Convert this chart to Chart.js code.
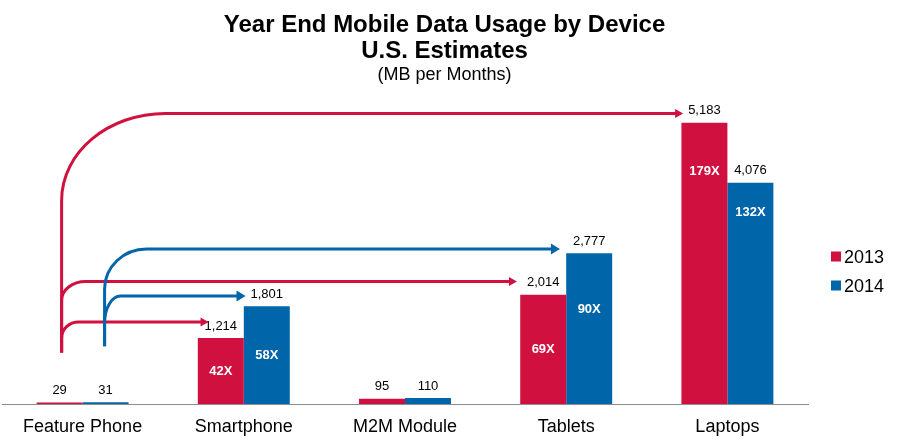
<!DOCTYPE html>
<html>
<head>
<meta charset="utf-8">
<script src="https://cdn.jsdelivr.net/npm/chart.js@4/dist/chart.umd.min.js"></script>
<style>
  html, body { margin: 0; padding: 0; background: #ffffff; }
  #wrap { width: 900px; height: 441px; }
</style>
</head>
<body>
<div id="wrap"><canvas id="c" width="900" height="441"></canvas></div>
<script>
// ---- data ----
const categories = ['Feature Phone', 'Smartphone', 'M2M Module', 'Tablets', 'Laptops'];
const seriesNames = ['2013', '2014'];
const usage2013 = [29, 1214, 95, 2014, 5183];
const usage2014 = [31, 1801, 110, 2777, 4076];
const growth2013 = ['', '42X', '', '69X', '179X'];
const growth2014 = ['', '58X', '', '90X', '132X'];
const titleLines = ['Year End Mobile Data Usage by Device', 'U.S. Estimates'];
const subtitleText = '(MB per Months)';
const yMax = 5600;

// ---- styling ----
const RED = '#D0103F';
const BLUE = '#0065A9';
const FONT = "'Liberation Sans', Arial, Helvetica, sans-serif";

const growthLabels = [growth2013, growth2014];

// value labels, growth labels, arrows and legend
const annotatePlugin = {
  id: 'annotate',
  afterDatasetsDraw(chart, args, opts) {
    const ctx = chart.ctx;
    const metas = chart.data.datasets.map((d, i) => chart.getDatasetMeta(i));
    const labelInfo = [];
    ctx.save();
    // value labels
    ctx.font = '13px ' + FONT;
    ctx.fillStyle = '#000';
    ctx.textAlign = 'center';
    ctx.textBaseline = 'alphabetic';
    metas.forEach((meta, di) => {
      labelInfo[di] = [];
      const ds = chart.data.datasets[di];
      meta.data.forEach((bar, i) => {
        const p = bar.getProps(['x', 'y', 'base', 'width'], true);
        const txt = ds.data[i].toLocaleString('en-US');
        const baseY = p.y - opts.valueGap;
        ctx.fillText(txt, p.x, baseY);
        const w = ctx.measureText(txt).width;
        labelInfo[di][i] = { left: p.x - w / 2, mid: baseY - 4.7, x: p.x, top: p.y, base: p.base };
      });
    });
    // growth labels inside the bars
    ctx.font = 'bold 13px ' + FONT;
    ctx.fillStyle = '#ffffff';
    ctx.textBaseline = 'middle';
    metas.forEach((meta, di) => {
      meta.data.forEach((bar, i) => {
        const g = growthLabels[di][i];
        if (!g) return;
        const p = bar.getProps(['x', 'y', 'base'], true);
        const depthMap = opts.growthDepth[seriesNames[di]] || {};
        const depth = depthMap[categories[i]];
        const y = depth != null ? p.y + depth : (p.y + p.base) / 2;
        ctx.fillText(g, p.x, y);
      });
    });
    // arrows from Feature Phone to other devices
    const colors = [RED, BLUE];
    opts.arrows.forEach(a => {
      const src = labelInfo[a.series][0];
      const dst = labelInfo[a.series][a.to];
      const x0 = src.x + opts.stemShift[a.series];
      const yStart = src.top - opts.stemGap[a.series];
      const yH = dst.mid + a.dy;
      const tipX = dst.left - a.gap;
      const head = opts.head[a.series];
      const k = 0.5523;
      ctx.strokeStyle = colors[a.series];
      ctx.fillStyle = colors[a.series];
      ctx.lineWidth = 3;
      ctx.lineCap = 'butt';
      ctx.beginPath();
      ctx.moveTo(x0, yStart);
      ctx.lineTo(x0, yH + a.ry);
      ctx.bezierCurveTo(x0, yH + a.ry * (1 - k), x0 + a.rx * (1 - k), yH, x0 + a.rx, yH);
      ctx.lineTo(tipX - head.len + 1, yH);
      ctx.stroke();
      ctx.beginPath();
      ctx.moveTo(tipX, yH);
      ctx.lineTo(tipX - head.len, yH - head.half);
      ctx.lineTo(tipX - head.len, yH + head.half);
      ctx.closePath();
      ctx.fill();
    });
    // legend
    const ca = chart.chartArea;
    ctx.textAlign = 'left';
    ctx.textBaseline = 'alphabetic';
    ctx.font = '18px ' + FONT;
    chart.data.datasets.forEach((ds, di) => {
      const cy = ca.top + opts.legendTop + di * 29;
      ctx.fillStyle = ds.backgroundColor;
      ctx.fillRect(ca.right + 23, cy - 5, 10, 10);
      ctx.fillStyle = '#000';
      ctx.fillText(ds.label, ca.right + 36, cy + 6.5);
    });
    ctx.restore();
  }
};

new Chart(document.getElementById('c'), {
  type: 'bar',
  data: {
    labels: categories,
    datasets: [
      { label: seriesNames[0], data: usage2013, backgroundColor: RED, borderWidth: 0 },
      { label: seriesNames[1], data: usage2014, backgroundColor: BLUE, borderWidth: 0 }
    ]
  },
  plugins: [annotatePlugin],
  options: {
    responsive: false,
    animation: false,
    devicePixelRatio: 1,
    categoryPercentage: 0.5705,
    barPercentage: 1.0,
    layout: { padding: { left: 2, right: 13, top: 0, bottom: 3 } },
    scales: {
      x: {
        grid: { display: false, drawTicks: false },
        border: { display: true, color: '#8c8c8c', width: 1 },
        ticks: { color: '#000', padding: 12, font: { family: FONT, size: 18, lineHeight: 1.2 } },
        afterFit(scale) { scale.height = 34; }
      },
      y: {
        position: 'right',
        min: 0,
        max: yMax,
        grid: { display: false, drawTicks: false },
        border: { display: false },
        ticks: { display: false },
        afterFit(scale) { scale.width = 79; }
      }
    },
    plugins: {
      legend: { display: false },
      tooltip: { enabled: false },
      title: {
        display: true,
        text: titleLines,
        color: '#000',
        font: { family: FONT, size: 24, weight: 'bold', lineHeight: '26px' },
        padding: { top: 12, bottom: 0 }
      },
      subtitle: {
        display: true,
        text: subtitleText,
        color: '#000',
        font: { family: FONT, size: 18, lineHeight: '20px' },
        padding: { top: 0.8, bottom: 15.2 }
      },
      annotate: {
        valueGap: 8.5,
        stemGap: [50, 56],
        stemShift: [2, -1],
        head: [{ len: 8, half: 4.5 }, { len: 9, half: 5.5 }],
        legendTop: 156.5,
        growthDepth: { '2013': { Laptops: 49 }, '2014': { Tablets: 56, Laptops: 30 } },
        arrows: [
          { series: 0, to: 4, rx: 104, ry: 87, dy: 4, gap: 5 },
          { series: 0, to: 3, rx: 24, ry: 19, dy: 0, gap: 10 },
          { series: 0, to: 1, rx: 17, ry: 16, dy: -3, gap: -4 },
          { series: 1, to: 3, rx: 42, ry: 40, dy: 9, gap: 13 },
          { series: 1, to: 1, rx: 16, ry: 27, dy: 3, gap: 5 }
        ]
      }
    }
  }
});
</script>
</body>
</html>
